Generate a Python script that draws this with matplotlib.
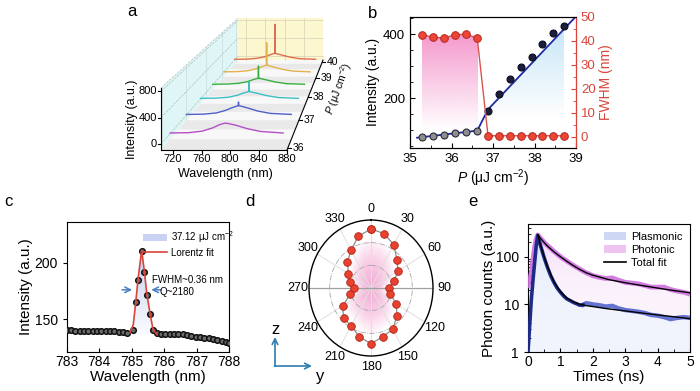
import numpy as np
import matplotlib
matplotlib.use("Agg")
import matplotlib.pyplot as plt
import matplotlib.colors as mcolors
from matplotlib.patches import Polygon, Patch
from matplotlib.lines import Line2D
from matplotlib.ticker import AutoMinorLocator, LogLocator, NullFormatter

plt.rcParams["font.family"] = ["Liberation Sans", "DejaVu Sans"]
plt.rcParams["mathtext.fontset"] = "custom"
plt.rcParams["mathtext.rm"] = "Liberation Sans"
plt.rcParams["mathtext.it"] = "Liberation Sans:italic"
plt.rcParams["axes.linewidth"] = 0.8

# ---------------- data ----------------
# a: waterfall spectra at several pump fluences
wl_a = [703, 730, 750, 765, 775, 782, 784.5, 785, 785.5, 790, 800, 815, 835, 868]
p_a = [36.3, 37.0, 37.7, 38.4, 39.1, 39.9]
spec_363 = [10, 15, 40, 90, 140, 163, 165, 165, 164, 155, 130, 80, 35, 10]
spec_370 = [10, 15, 35, 80, 125, 150, 158, 220, 158, 148, 118, 68, 28, 10]
spec_377 = [10, 14, 30, 65, 105, 125, 132, 310, 132, 122, 98, 58, 24, 10]
spec_384 = [10, 14, 30, 60, 98, 120, 127, 365, 127, 117, 93, 55, 22, 10]
spec_391 = [10, 15, 35, 72, 112, 138, 147, 610, 147, 135, 103, 62, 25, 10]
spec_399 = [10, 15, 35, 70, 108, 135, 142, 780, 142, 130, 100, 60, 24, 10]
spectra_a = [spec_363, spec_370, spec_377, spec_384, spec_391, spec_399]
colors_a = ["#b44ec6", "#4f5fc6", "#3dbfc6", "#35b040", "#e3b24e", "#de6e52"]

# b: intensity and FWHM vs fluence
p_b = [35.28, 35.55, 35.82, 36.08, 36.35, 36.62, 36.88, 37.14, 37.40, 37.67, 37.94, 38.19, 38.44, 38.70]
int_b = [79, 82, 84, 91, 94, 99, 160, 212, 259, 297, 328, 369, 403, 425]
fwhm_b = [42.5, 41.5, 41.1, 42.5, 42.7, 41.1, 0.4, 0.4, 0.4, 0.4, 0.4, 0.4, 0.4, 0.4]
fitp_b = [35.17, 36.62, 36.88, 39.0]
fiti_b = [77, 99, 165, 455]

# c: single lasing peak
wl_c = [783.0, 783.13, 783.27, 783.4, 783.53, 783.67, 783.8, 783.93, 784.07, 784.2,
        784.33, 784.47, 784.6, 784.73, 784.87, 785.03, 785.12, 785.2, 785.31, 785.39,
        785.47, 785.58, 785.66, 785.77, 785.9, 786.03, 786.17, 786.3, 786.43, 786.57,
        786.7, 786.83, 786.97, 787.1, 787.23, 787.37, 787.5, 787.63, 787.77, 787.9, 788.0]
int_c = [140.5, 140.2, 139.8, 139.6, 139.6, 139.7, 139.6, 139.5, 139.6, 139.5,
         139.4, 139.2, 138.9, 138.4, 138.2, 140.6, 165, 185, 210.3, 192,
         171.4, 154.4, 140.6, 137.6, 137.2, 136.8, 136.7, 136.6, 136.7, 136.5,
         136.0, 135.3, 134.7, 134.2, 133.8, 133.3, 132.7, 131.9, 131.0, 130.0, 129.0]
fitwl_c = [784.95, 785.05, 785.12, 785.2, 785.31, 785.39, 785.47, 785.58, 785.66, 785.78]
fiti_c = [138, 145, 163, 186, 211, 193, 172, 153, 141, 136.5]

# d: polarisation pattern
ang_d = list(range(0, 360, 15))
r_d = [0.868, 0.827, 0.734, 0.592, 0.50, 0.386, 0.285, 0.32, 0.474, 0.59, 0.70, 0.74,
       0.82, 0.74, 0.64, 0.627, 0.528, 0.343, 0.28, 0.354, 0.42, 0.538, 0.644, 0.788]

# e: time-resolved decay
t_e = [0.0, 0.05, 0.1, 0.15, 0.2, 0.25, 0.3, 0.4, 0.5, 0.6, 0.7, 0.8, 0.9, 1.0,
       1.1, 1.2, 1.3, 1.4, 1.5, 1.6, 1.7, 1.8, 1.9, 2.0, 2.2, 2.4, 2.6, 2.8, 3.0,
       3.2, 3.4, 3.6, 3.8, 4.0, 4.2, 4.4, 4.6, 4.8, 5.0]
plas_e = [1.0, 3.5, 12, 30, 70, 160, 280, 160, 95, 60, 40, 29, 22, 18,
          15, 13, 12, 11, 10.3, 9.6, 9.8, 10.6, 10.3, 10.0, 9.6, 9.0, 9.3, 8.2, 7.6,
          7.3, 7.0, 6.6, 6.0, 5.8, 5.4, 4.9, 5.2, 5.4, 5.2]
phot_e = [25, 32, 45, 85, 150, 230, 285, 240, 200, 172, 150, 130, 114, 100,
          90, 81, 73, 66, 60, 55, 50, 46, 43, 40, 37, 35, 36, 32, 29,
          28, 27, 25, 23, 23, 23, 20.5, 19, 18, 16.5]
fitt_e = [0.3, 0.4, 0.5, 0.6, 0.8, 1.0, 1.2, 1.4, 1.6, 1.8, 2.0, 2.5, 3.0, 3.5, 4.0, 4.5, 5.0]
fitplas_e = [290, 165, 98, 62, 30, 18.5, 13.5, 11.3, 10.0, 9.4, 9.0, 8.0, 7.3, 6.6, 6.0, 5.5, 5.0]
fitphot_e = [290, 238, 198, 168, 127, 100, 80, 65, 54, 46, 41, 33, 28.5, 25, 22, 19.5, 17.5]


def grad_fill(ax, verts, extent, color, a_top, a_bot, z=1):
    poly = Polygon(verts, closed=True, fc="none", ec="none", transform=ax.transData)
    ax.add_patch(poly)
    img = np.zeros((256, 2, 4))
    img[..., :3] = mcolors.to_rgb(color)
    img[..., 3] = np.linspace(a_bot, a_top, 256)[:, None]
    im = ax.imshow(img, extent=extent, origin="lower", aspect="auto",
                   interpolation="bilinear", zorder=z)
    im.set_clip_path(poly)


fig = plt.figure(figsize=(7, 3.91), dpi=100)

# ---------------- a: pseudo-3D waterfall ----------------
ax_a = fig.add_axes([120 / 700, 1 - 195 / 391, 230 / 700, 195 / 391])
ax_a.set_xlim(120, 350)
ax_a.set_ylim(195, 0)
ax_a.axis("off")

WL0, WL1, P0, P1, I0, I1 = 703, 880, 35.95, 40.15, -90, 850


def proj(wl, p, inten):
    # simple perspective box: front face 126x62 px, vanishing point up-right
    u = (np.asarray(wl, float) - WL0) / (WL1 - WL0)
    v = (np.asarray(p, float) - P0) / (P1 - P0)
    w = (np.asarray(inten, float) - I0) / (I1 - I0)
    s = 1 / (1 + 0.48 * v)
    return 398 + (161 + u * 126 - 398) * s, -127 + (150 - w * 62 + 127) * s


def face(corners, **kw):
    xs, ys = proj(*np.array(corners).T)
    ax_a.add_patch(Polygon(np.column_stack([xs, ys]), closed=True, **kw))


face([(WL0, P0, I0), (WL1, P0, I0), (WL1, P1, I0), (WL0, P1, I0)], fc="#f8f8f8", ec="none")
for p in p_a:
    lo = max(P0, p - 0.35)
    face([(WL0, lo, I0), (WL1, lo, I0), (WL1, p, I0), (WL0, p, I0)], fc="#e9e9e9", ec="none")
face([(WL0, P0, I0), (WL0, P1, I0), (WL0, P1, I1), (WL0, P0, I1)], fc="#e0f5f5", ec="none")
face([(WL0, P1, I0), (WL1, P1, I0), (WL1, P1, I1), (WL0, P1, I1)], fc="#fcf7cf", ec="none")

# wall grids
for p in [36, 37, 38, 39, 40]:
    ax_a.plot(*proj([WL0, WL0], [p, p], [I0, I1]), color="#c8dede", lw=0.5)
for i in [0, 400, 800]:
    ax_a.plot(*proj([WL0, WL0], [P0, P1], [i, i]), color="#adc0c0", lw=0.5, ls="--")
    ax_a.plot(*proj([WL0, WL1], [P1, P1], [i, i]), color="#d4d2b8", lw=0.5)
ax_a.plot(*proj([WL0, WL0], [P0, P1], [I1, I1]), color="#adc0c0", lw=0.5, ls="--")
for wl in [720, 760, 800, 840]:
    ax_a.plot(*proj([wl, wl], [P1, P1], [I0, I1]), color="#d4d2b8", lw=0.5)

# spectra, back to front
for p, spec, c in list(zip(p_a, spectra_a, colors_a))[::-1]:
    ax_a.plot(*proj(wl_a, [p] * len(wl_a), spec), color=c, lw=1.0)

# axes lines and ticks
ax_a.plot(*proj([WL0, WL0], [P0, P0], [I0, I1]), color="k", lw=0.8)
ax_a.plot(*proj([WL0, WL1], [P0, P0], [I0, I0]), color="k", lw=0.8)
ax_a.plot(*proj([WL1, WL1], [P0, P1], [I0, I0]), color="k", lw=0.8)
for i in [0, 400, 800]:
    x, y = proj(WL0, P0, i)
    ax_a.plot([x - 3, x], [y, y], color="k", lw=0.8)
    ax_a.text(x - 4, y, str(i), ha="right", va="center", fontsize=8)
for wl in [720, 760, 800, 840, 880]:
    x, y = proj(wl, P0, I0)
    ax_a.plot([x, x], [y, y + 3], color="k", lw=0.8)
    ax_a.text(x, y + 4, str(wl), ha="center", va="top", fontsize=8)
for p in [36, 37, 38, 39, 40]:
    x, y = proj(WL1, p, I0)
    ax_a.plot([x, x + 3], [y, y], color="k", lw=0.8)
    ax_a.text(x + 5, y, str(p), ha="left", va="center", fontsize=7.5)
ax_a.text(225, 174, "Wavelength (nm)", ha="center", va="center", fontsize=9)
ax_a.text(132, 119, "Intensity (a.u.)", rotation=90, ha="center", va="center", fontsize=9)
ax_a.text(339, 89, "$P$ (μJ cm$^{-2}$)", rotation=70, ha="center", va="center", fontsize=7.5)

# ---------------- b: threshold curve ----------------
ax_b = fig.add_axes([410 / 700, 1 - 148 / 391, 166 / 700, 131.3 / 391])
ax_b2 = ax_b.twinx()
grad_fill(ax_b, [(fitp_b[0], 45)] + list(zip(fitp_b, fiti_b)) + [(fitp_b[-1], 45)],
          [p_b[6], p_b[-1], 140, 455], "#9fd3f2", 0.65, 0.0)
grad_fill(ax_b2, [(p_b[0], -4.7)] + list(zip(p_b, fwhm_b)) + [(p_b[-1], -4.7)],
          [p_b[0], p_b[5], 3, 43], "#f27fc0", 0.8, 0.0)
ax_b.plot(fitp_b, fiti_b, color="#1f2aa0", lw=1.3, zorder=3)
low = np.array(p_b) < 36.75
pb, ib = np.array(p_b), np.array(int_b)
ax_b.plot(pb[low], ib[low], "o", ms=5, mfc="#8e8e8e", mec="#2a2a3a", mew=0.8, zorder=4)
ax_b.plot(pb[~low], ib[~low], "o", ms=5, mfc="#1d1d3c", mec="#0b0b20", mew=0.8, zorder=4)
ax_b2.plot(p_b, fwhm_b, "-o", color="#d9534f", lw=1.0, ms=5.5, mfc="#ec4637",
           mec="#b3261c", mew=0.7, zorder=4, clip_on=False)
ax_b.set_xlim(35, 39)
ax_b.set_ylim(45, 454)
ax_b2.set_ylim(-4.7, 50)
ax_b.set_xticks([35, 36, 37, 38, 39])
ax_b.set_yticks([200, 400])
ax_b2.set_yticks([0, 10, 20, 30, 40, 50])
ax_b.xaxis.set_minor_locator(AutoMinorLocator(2))
ax_b.yaxis.set_minor_locator(AutoMinorLocator(4))
ax_b2.yaxis.set_minor_locator(AutoMinorLocator(2))
red = "#d9453b"
ax_b.tick_params(which="both", direction="in", labelsize=9.5, top=False)
ax_b.tick_params(which="minor", length=2)
ax_b2.tick_params(which="both", direction="in", labelsize=9.5, colors=red)
ax_b2.tick_params(which="minor", length=2)
ax_b2.spines["right"].set_color(red)
ax_b.set_xlabel("$P$ (μJ cm$^{-2}$)", fontsize=10, labelpad=2)
ax_b.set_ylabel("Intensity (a.u.)", fontsize=10, labelpad=2)
ax_b2.set_ylabel("FWHM (nm)", fontsize=10, color=red, labelpad=2)

# ---------------- c: lasing peak ----------------
ax_c = fig.add_axes([66.7 / 700, 1 - 352 / 391, 162.3 / 700, 130 / 391])
grad_fill(ax_c, list(zip(fitwl_c, fiti_c)) + [(fitwl_c[-1], 137), (fitwl_c[0], 137)],
          [fitwl_c[0], fitwl_c[-1], 137, 212], "#a9b8ea", 0.7, 0.05)
ax_c.plot(wl_c, int_c, "o", ms=4.0, mfc="#6a6a6a", mec="#111111", mew=1.1, zorder=3)
ax_c.plot(fitwl_c, fiti_c, color="#d8463a", lw=1.2, zorder=4)
ax_c.set_xlim(783, 788)
ax_c.set_ylim(121, 236)
ax_c.set_xticks([783, 784, 785, 786, 787, 788])
ax_c.set_yticks([150, 200])
ax_c.tick_params(labelsize=10, length=3)
ax_c.tick_params(axis="x", direction="in", pad=2)
ax_c.set_xlabel("Wavelength (nm)", fontsize=11, labelpad=1)
ax_c.set_ylabel("Intensity (a.u.)", fontsize=11, labelpad=1)
ax_c.annotate("", xy=(785.1, 176), xytext=(784.62, 176),
              arrowprops=dict(arrowstyle="->", color="#4a7fc0", lw=1.1))
ax_c.annotate("", xy=(785.52, 176), xytext=(786.0, 176),
              arrowprops=dict(arrowstyle="->", color="#4a7fc0", lw=1.1))
ax_c.text(785.62, 184.5, "FWHM~0.36 nm", fontsize=7, ha="left", va="center")
ax_c.text(786.4, 174, "Q~2180", fontsize=7, ha="center", va="center")
ax_c.legend([Patch(fc="#c9d2f2", ec="none"), Line2D([], [], color="#d8463a", lw=1.2)],
            ["37.12 μJ cm$^{-2}$", "Lorentz fit"], loc="upper left",
            bbox_to_anchor=(0.43, 1.0), fontsize=7, frameon=False,
            handlelength=2.4, labelspacing=0.3, borderpad=0.2, handletextpad=0.5)

# ---------------- d: polar pattern ----------------
ax_d = fig.add_axes([309 / 700, 1 - 356 / 391, 124 / 700, 136 / 391], projection="polar")
ax_d.set_aspect("auto")
ax_d.set_theta_zero_location("N")
ax_d.set_theta_direction(-1)
th = np.deg2rad(ang_d + [ang_d[0]])
rr = np.array(r_d + [r_d[0]])
for k in np.linspace(0.85, 0.05, 14):
    ax_d.fill(th, rr * k, color="#f386c4", alpha=0.07, lw=0, zorder=1)
ax_d.plot(np.deg2rad([90, 90]), [0, 1], color="#a0a0a0", lw=0.9, zorder=2)
ax_d.plot(np.deg2rad([270, 270]), [0, 1], color="#a0a0a0", lw=0.9, zorder=2)
ax_d.plot(th, rr, "-o", color="#8c8c8c", lw=0.9, ms=5.5, mfc="#e8412f", mec="#b0251a",
          mew=0.6, zorder=3, clip_on=False)
ax_d.set_ylim(0, 1)
ax_d.set_yticks([1 / 3, 2 / 3])
ax_d.set_yticklabels([])
ax_d.set_thetagrids(range(0, 360, 30), [str(a) for a in range(0, 360, 30)], fontsize=9)
ax_d.set_xticks(np.deg2rad(np.arange(0, 360, 10)), minor=True)
ax_d.tick_params(axis="x", which="both", direction="in", length=3, pad=1)
ax_d.xaxis.grid(True, color="#e0e0e0", lw=0.7)
ax_d.yaxis.grid(True, color="#a8a8a8", lw=0.6, ls="-.")
ax_d.spines["polar"].set_linewidth(1.0)

# ---------------- e: decay curves ----------------
ax_e = fig.add_axes([528 / 700, 1 - 352 / 391, 162 / 700, 127.7 / 391])
ax_e.set_yscale("log")
grad_fill(ax_e, [(t_e[0], 1)] + list(zip(t_e, plas_e)) + [(t_e[-1], 1)],
          [0, 5, 1, 300], "#b9c8f2", 0.75, 0.2)
grad_fill(ax_e, list(zip(t_e, phot_e)) + list(zip(t_e[::-1], plas_e[::-1])),
          [0, 5, 1, 300], "#e9b5f0", 0.7, 0.15)
te, pl = np.array(t_e), np.array(plas_e)
early = te <= 1.7
ax_e.plot(t_e, phot_e, color="#d06fe0", lw=3.5, alpha=0.9, zorder=3)
ax_e.plot(te[te >= 1.7], pl[te >= 1.7], color="#5565cc", lw=3.2, alpha=0.9, zorder=3)
ax_e.plot(te[early], pl[early], color="#1d2a86", lw=2.6, zorder=3)
ax_e.plot(fitt_e, fitphot_e, color="k", lw=1.0, zorder=4)
ax_e.plot(fitt_e, fitplas_e, color="k", lw=1.0, zorder=4)
ax_e.set_xlim(0, 5)
ax_e.set_ylim(1, 480)
ax_e.set_xticks([0, 1, 2, 3, 4, 5])
ax_e.set_yticks([1, 10, 100])
ax_e.set_yticklabels(["1", "10", "100"])
ax_e.yaxis.set_minor_locator(LogLocator(subs=np.arange(2, 10)))
ax_e.yaxis.set_minor_formatter(NullFormatter())
ax_e.xaxis.set_minor_locator(AutoMinorLocator(2))
ax_e.tick_params(labelsize=10, length=3)
ax_e.tick_params(axis="x", direction="in", pad=2)
ax_e.tick_params(which="minor", direction="in", length=2)
ax_e.set_xlabel("Times (ns)", fontsize=11, labelpad=1)
ax_e.set_ylabel("Photon counts (a.u.)", fontsize=11, labelpad=0)
ax_e.legend([Patch(fc="#cdd8f5", ec="none"), Patch(fc="#eec4f2", ec="none"),
             Line2D([], [], color="k", lw=1.2)],
            ["Plasmonic", "Photonic", "Total fit"], loc="upper right",
            bbox_to_anchor=(1.0, 1.0), fontsize=8, frameon=False,
            handlelength=2.0, labelspacing=0.25, borderpad=0.2, handletextpad=0.4)

# ---------------- overlay: panel letters, axes arrows ----------------
ov = fig.add_axes([0, 0, 1, 1])
ov.set_xlim(0, 700)
ov.set_ylim(391, 0)
ov.axis("off")
for lab, x, y in [("a", 132, 12), ("b", 373, 13), ("c", 8, 202), ("d", 250, 202), ("e", 473, 202)]:
    ov.text(x, y, lab, fontsize=12, ha="center", va="center")
axc = "#2f7db0"
ov.annotate("", xy=(275, 337), xytext=(275, 366),
            arrowprops=dict(arrowstyle="->", color=axc, lw=1.2, shrinkA=0, shrinkB=0))
ov.annotate("", xy=(312, 366), xytext=(274.4, 366),
            arrowprops=dict(arrowstyle="->", color=axc, lw=1.2, shrinkA=0, shrinkB=0))
ov.text(276, 329, "z", fontsize=12, ha="center", va="center")
ov.text(320, 376, "y", fontsize=12, ha="center", va="center")

fig.savefig("out.png", dpi=100)
